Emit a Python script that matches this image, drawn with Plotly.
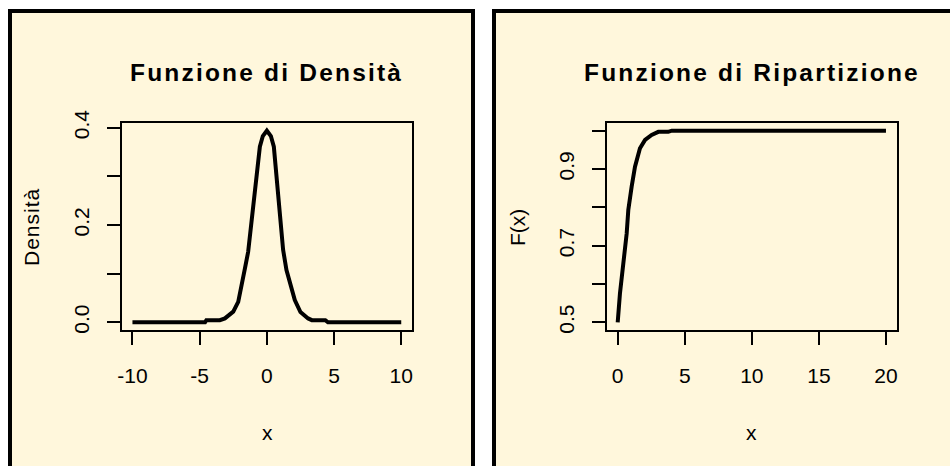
import plotly.graph_objects as go

W, H = 950, 466

# Density curve (left panel)
dens_x = [-10, -4.6, -4.5, -3.5, -3.12, -2.5, -2.13, -1.88, -1.63, -1.39, -0.52, -0.3,
          0.0, 0.3, 0.52, 1.21, 1.46, 2.08, 2.5, 3.07, 3.35, 4.35, 4.55, 10]
dens_y = [0, 0, 0.0045, 0.0045, 0.008, 0.022, 0.042, 0.073, 0.111, 0.145, 0.361, 0.383,
          0.394, 0.383, 0.361, 0.149, 0.1075, 0.0458, 0.021, 0.008, 0.0045, 0.0045, 0, 0]

# Distribution function (right panel)
cdf_x = [0, 0.17, 0.67, 0.79, 1.04, 1.29, 1.66, 2.04, 2.53, 3.03, 3.77, 4.03, 5, 10, 15, 20]
cdf_y = [0.5, 0.576, 0.732, 0.793, 0.854, 0.906, 0.954, 0.976, 0.989, 0.997, 0.997,
         1.0, 1.0, 1.0, 1.0, 1.0]

dens_xticks = [-10, -5, 0, 5, 10]
dens_xticktext = ["-10", "-5", "0", "5", "10"]
dens_yticks = [0, 0.1, 0.2, 0.3, 0.4]
dens_yticktext = ["0.0", "", "0.2", "", "0.4"]
cdf_xticks = [0, 5, 10, 15, 20]
cdf_yticks = [0.5, 0.6, 0.7, 0.8, 0.9, 1.0]
cdf_yticktext = ["0.5", "", "0.7", "", "0.9", ""]

CREAM = "#FFF7DC"
FONT = "Liberation Sans, Arial, sans-serif"


def px_x(p):
    return p / W


def px_y(p):
    return 1 - p / H


fig = go.Figure()
fig.add_trace(go.Scatter(x=dens_x, y=dens_y, mode="lines",
                         line=dict(color="black", width=4), xaxis="x", yaxis="y",
                         showlegend=False, hoverinfo="skip"))
fig.add_trace(go.Scatter(x=cdf_x, y=cdf_y, mode="lines",
                         line=dict(color="black", width=4), xaxis="x2", yaxis="y2",
                         showlegend=False, hoverinfo="skip"))

axis_common = dict(showgrid=False, zeroline=False, showline=True, mirror=True,
                   linecolor="black", linewidth=1.5, ticks="outside", ticklen=13,
                   tickwidth=1.5, tickcolor="black", automargin=False,
                   tickfont=dict(family=FONT, size=21, color="black"), fixedrange=True)

fig.update_layout(
    width=W, height=H,
    margin=dict(l=0, r=0, t=0, b=0, pad=0, autoexpand=False),
    paper_bgcolor="white", plot_bgcolor=CREAM,
    xaxis=dict(domain=[px_x(121.7), px_x(412)], range=[-10.8, 10.8],
               tickvals=dens_xticks, ticktext=dens_xticktext, anchor="y",
               ticklabelstandoff=13, **axis_common),
    yaxis=dict(domain=[px_y(330), px_y(123)], range=[-0.0158, 0.4098],
               tickvals=dens_yticks, ticktext=dens_yticktext, tickangle=-90,
               anchor="x", ticklabelstandoff=10, **axis_common),
    xaxis2=dict(domain=[px_x(606.7), px_x(896.7)], range=[-0.82, 20.8],
                tickvals=cdf_xticks, anchor="y2", ticklabelstandoff=13,
                **axis_common),
    yaxis2=dict(domain=[px_y(330), px_y(123)], range=[0.48, 1.02],
                tickvals=cdf_yticks, ticktext=cdf_yticktext, tickangle=-90,
                anchor="x2", ticklabelstandoff=10, **axis_common),
)

# Panel frames
fig.add_shape(type="rect", xref="paper", yref="paper",
              x0=px_x(10), x1=px_x(473), y0=-0.2, y1=px_y(11),
              line=dict(color="black", width=4), fillcolor=CREAM, layer="below")
fig.add_shape(type="rect", xref="paper", yref="paper",
              x0=px_x(494), x1=1.2, y0=-0.2, y1=px_y(11),
              line=dict(color="black", width=4), fillcolor=CREAM, layer="below")

title_style = "letter-spacing:2.2px"
texts = [
    ("<b><span style='%s'>Funzione di Densità</span></b>" % title_style, 266, 72, 24.5, 0),
    ("<b><span style='%s'>Funzione di Ripartizione</span></b>" % title_style, 751.5, 72, 24.5, 0),
    ("x", 267, 432, 21, 0),
    ("x", 751.5, 432, 21, 0),
    ("<span style='letter-spacing:1px'>Densità</span>", 32, 227, 21, -90),
    ("F(x)", 517, 228, 21, -90),
]
for txt, x, y, size, ang in texts:
    fig.add_annotation(text=txt, x=px_x(x), y=px_y(y), xref="paper", yref="paper",
                       xanchor="center", yanchor="middle", showarrow=False,
                       textangle=ang, font=dict(family=FONT, size=size, color="black"))

fig.write_html(
    "out.html",
    post_script="document.body.style.margin='0';document.body.style.overflow='hidden';",
)
